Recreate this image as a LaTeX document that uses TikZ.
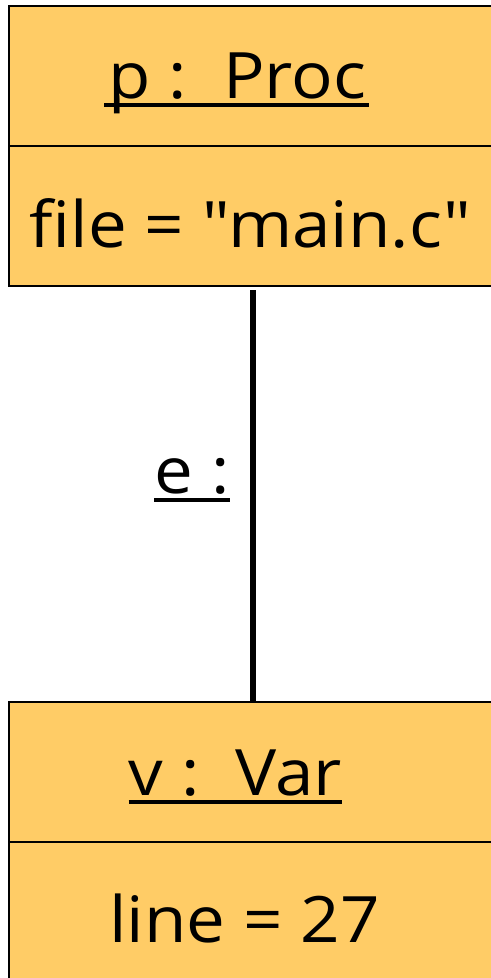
\documentclass[tikz,border=0pt]{standalone}
\usepackage{fontspec}
\setmainfont{Open Sans}[FakeStretch=1.08, Ligatures=TeXOff]
\definecolor{objfill}{RGB}{255,204,102}
\tikzset{
  compart/.style={draw=black, fill=objfill, line width=1.2pt, inner sep=0pt,
    minimum width=383.25pt, minimum height=105pt},
  txt/.style={inner sep=0pt, anchor=base, font=\fontsize{48}{58}\selectfont},
  uline/.style={line width=3pt},
  link/.style={line width=3.8pt}
}
\begin{document}
\begin{tikzpicture}[x=0.75pt,y=-0.75pt]
\useasboundingbox (0,0) rectangle (491,978);
\clip (0,0) rectangle (491,978);
% object p
\node[compart] (phead) at (264.5,76) {};
\node[compart] (pattr) at (264.5,216) {};
\node[txt] (pname) at (237.5,98) {p :~~Proc};
\node[txt] (pfile) at (250.5,247) {file = "main.c"};
\draw[uline] ([xshift=-3pt,yshift=-5.5pt]pname.base west) -- ([xshift=1.5pt,yshift=-5.5pt]pname.base east);
% object v
\node[compart] (vhead) at (264.5,772) {};
\node[compart] (vattr) at (264.5,912) {};
\node[txt] (vname) at (235.5,795) {v :~~Var};
\node[txt] (vline) at (244.5,942) {line = 27};
\draw[uline] ([yshift=-5.5pt]vname.base west) -- ([yshift=-5.5pt]vname.base east);
% link
\coordinate (ltop) at (253,290);
\coordinate (lbot) at (253,702);
\draw[link] (ltop) -- (lbot);
\node[txt, anchor=base east] (elabel) at (230,493) {e :};
\draw[uline] ([yshift=-5.5pt]elabel.base west) -- ([yshift=-5.5pt]elabel.base east);
\end{tikzpicture}
\end{document}
